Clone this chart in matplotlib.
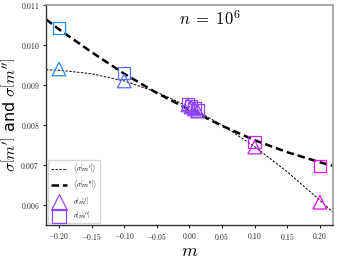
import numpy as np
import matplotlib
matplotlib.use("Agg")
import matplotlib.pyplot as plt
from matplotlib.colors import LinearSegmentedColormap, Normalize
from matplotlib.lines import Line2D
from matplotlib.ticker import FuncFormatter, MultipleLocator

plt.rcParams["mathtext.fontset"] = "cm"

# theory curves
m_curve = [-0.22, -0.20, -0.15, -0.10, -0.05, 0.00, 0.05, 0.10, 0.15, 0.20, 0.22]
sig1_curve = [0.00938, 0.00937, 0.00928, 0.00910, 0.00882, 0.00845,
              0.00800, 0.00746, 0.00683, 0.00612, 0.00582]
sig2_curve = [0.01064, 0.01039, 0.00982, 0.00928, 0.00880, 0.00838,
              0.00798, 0.00762, 0.00732, 0.00707, 0.00698]

# simulated points
m_pts = [-0.20, -0.10, -0.0025, 0.0025, 0.0075, 0.0125, 0.10, 0.20]
sig1_pts = [0.00940, 0.00910, 0.00850, 0.00845, 0.00840, 0.00835, 0.00745, 0.00607]
sig2_pts = [0.01043, 0.00930, 0.00852, 0.00847, 0.00842, 0.00836, 0.00757, 0.00698]

cmap = LinearSegmentedColormap.from_list("bm", ["#1e90ff", "#ff00ff"])
norm = Normalize(-0.2, 0.2)
cols = [cmap(norm(v)) for v in m_pts]

fig = plt.figure(figsize=(3.38, 2.59), dpi=100)
ax = fig.add_axes([0.136, 0.131, 0.849, 0.850])

ax.plot(m_curve, sig1_curve, color="black", lw=0.7, ls=(0, (2.5, 1.5)))
ax.plot(m_curve, sig2_curve, color="black", lw=1.8, ls=(0, (3, 1.6)))
ax.scatter(m_pts, sig1_pts, marker="^", s=95, facecolors="none", edgecolors=cols, linewidths=0.9, zorder=3)
ax.scatter(m_pts, sig2_pts, marker="s", s=80, facecolors="none", edgecolors=cols, linewidths=0.9, zorder=3)

ax.set_xlim(-0.22, 0.22)
ax.set_ylim(0.0055, 0.011)
ax.xaxis.set_major_locator(MultipleLocator(0.05))
ax.yaxis.set_major_locator(MultipleLocator(0.001))
ax.xaxis.set_major_formatter(FuncFormatter(lambda v, p: f"${v:.2f}$"))
ax.yaxis.set_major_formatter(FuncFormatter(lambda v, p: f"${v:.3f}$"))
ax.tick_params(labelsize=5.5, length=2.5, width=0.8, pad=2, colors="#222222")

for s in ["top", "right"]:
    ax.spines[s].set_color("#999999")
    ax.spines[s].set_linewidth(1.2)
for s in ["left", "bottom"]:
    ax.spines[s].set_color("#333333")
    ax.spines[s].set_linewidth(1.0)

ax.set_xlabel("$m$", fontsize=13, labelpad=0)
ax.set_ylabel(r"$\sigma\left[m'\right]$ and $\sigma\left[m''\right]$", fontsize=11.5,
              family="DejaVu Sans", labelpad=2)
ax.text(0.57, 0.935, r"$n\;=\;10^6$", transform=ax.transAxes, fontsize=12, ha="center", va="center")

purple = cmap(norm(0.0))
handles = [
    Line2D([], [], color="black", lw=0.7, ls=(0, (2.5, 1.5))),
    Line2D([], [], color="black", lw=1.8, ls=(0, (3, 1.6))),
    Line2D([], [], marker="^", ls="none", markersize=12, mfc="none", mec=purple, mew=0.9),
    Line2D([], [], marker="s", ls="none", markersize=10, mfc="none", mec=purple, mew=0.9),
]
labels = [r"$\langle\sigma\left[m'\right]\rangle$", r"$\langle\sigma\left[m''\right]\rangle$",
          r"$\sigma\left[\hat{m}'\right]$", r"$\sigma\left[\hat{m}''\right]$"]
ax.legend(handles, labels, loc="lower left", fontsize=5, handlelength=2.4,
          borderaxespad=0.3, labelspacing=0.45, framealpha=0.8, borderpad=0.4)

fig.savefig("out.png", dpi=100)
